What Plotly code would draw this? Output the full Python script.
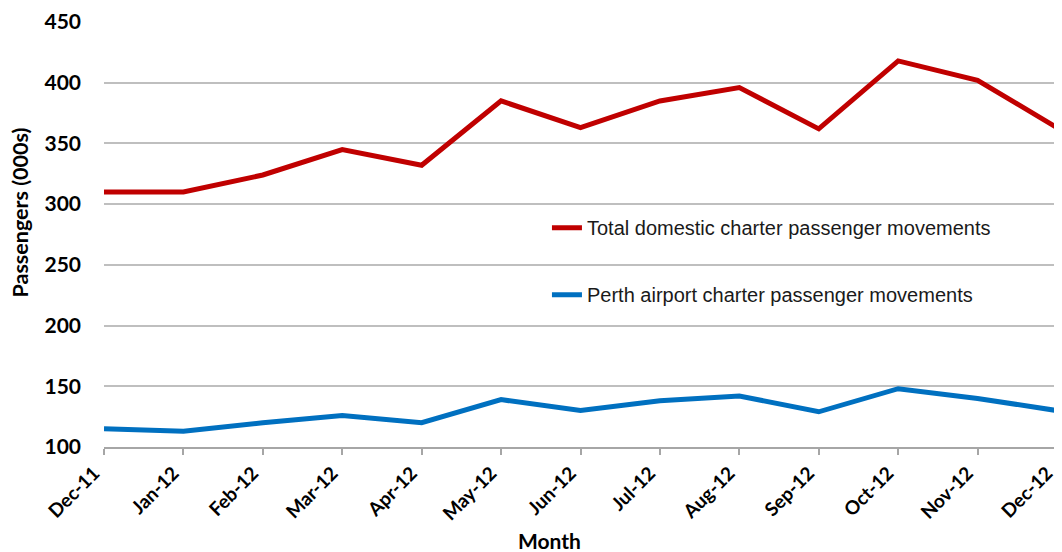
import plotly.graph_objects as go

months = ["Dec-11", "Jan-12", "Feb-12", "Mar-12", "Apr-12", "May-12", "Jun-12",
          "Jul-12", "Aug-12", "Sep-12", "Oct-12", "Nov-12", "Dec-12"]
total_domestic = [310, 310, 324, 345, 332, 385, 363, 385, 396, 362, 418, 402, 363]
perth_airport = [115, 113, 120, 126, 120, 139, 130, 138, 142, 129, 148, 140, 130]

NAME_TOTAL = "Total domestic charter passenger movements"
NAME_PERTH = "Perth airport charter passenger movements"
RED = "#C00000"
BLUE = "#0070C0"
FONT = "Lato"

fig = go.Figure()
fig.add_trace(go.Scatter(x=months, y=total_domestic, mode="lines", name=NAME_TOTAL,
                         legendgroup="a", line=dict(color=RED, width=5)))
fig.add_trace(go.Scatter(x=months, y=perth_airport, mode="lines", name=NAME_PERTH,
                         legendgroup="b", line=dict(color=BLUE, width=5)))

# page body adds an 8px margin, so the figure is a bit smaller than the window
fig.update_layout(
    width=1054, height=544,
    margin=dict(l=96, r=5, t=14, b=105),
    plot_bgcolor="white", paper_bgcolor="white",
    font=dict(family=FONT, color="black"),
    showlegend=True,
    legend=dict(x=0.4648, y=0.562, xanchor="left", yanchor="top",
                bgcolor="rgba(0,0,0,0)", tracegroupgap=38,
                font=dict(family="Liberation Sans", size=20, color="#1a1a1a")),
    annotations=[
        dict(text="<b>Passengers (000s)</b>", xref="paper", yref="paper",
             x=-0.0885, y=0.551, xanchor="center", yanchor="middle", textangle=-90,
             showarrow=False, borderpad=0,
             font=dict(family=FONT, size=21.5, color="black")),
        dict(text="<b>Month</b>", xref="paper", yref="paper",
             x=0.467, y=-0.219, xanchor="center", yanchor="middle",
             showarrow=False, font=dict(family=FONT, size=21, color="black")),
    ],
)
fig.update_xaxes(
    type="category", range=[0, 12], automargin=False,
    showgrid=False, showline=True, linecolor="#A6A6A6", linewidth=1.5,
    ticks="outside", ticklen=6, tickcolor="#A6A6A6", tickwidth=1.5,
    tickangle=-45, ticklabelshift=-10,
    tickfont=dict(family=FONT, size=19, color="black", weight="bold"),
)
fig.update_yaxes(
    range=[100, 450], dtick=50, automargin=False,
    showgrid=True, gridcolor="#BFBFBF", gridwidth=1.5,
    showline=False, zeroline=False, ticks="", ticklabelstandoff=22,
    tickfont=dict(family=FONT, size=21, color="black", weight="bold"),
)

fig.write_html("out.html")
